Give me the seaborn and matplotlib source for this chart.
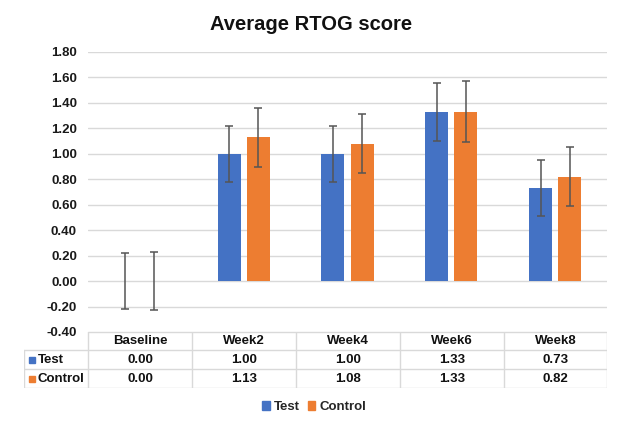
import matplotlib
matplotlib.use("Agg")
import matplotlib.pyplot as plt
import seaborn as sns
import pandas as pd
import numpy as np
from matplotlib.patches import Rectangle
from matplotlib.lines import Line2D

categories = ["Baseline", "Week2", "Week4", "Week6", "Week8"]
series = ["Test", "Control"]
test_vals = [0.00, 1.00, 1.00, 1.33, 0.73]
control_vals = [0.00, 1.13, 1.08, 1.33, 0.82]
test_err = [0.22, 0.22, 0.22, 0.23, 0.22]
control_err = [0.23, 0.23, 0.23, 0.24, 0.23]
yticks = [-0.40, -0.20, 0.00, 0.20, 0.40, 0.60, 0.80, 1.00, 1.20, 1.40, 1.60, 1.80]
colors = {"Test": "#4472C4", "Control": "#ED7D31"}

sns.set_theme(style="white")
plt.rcParams["font.family"] = ["Liberation Sans", "DejaVu Sans"]

W, H = 640, 425
fig = plt.figure(figsize=(W / 100, H / 100), dpi=100)

def fbox(x0, y0, x1, y1):
    return [x0 / W, 1 - y1 / H, (x1 - x0) / W, (y1 - y0) / H]

ax = fig.add_axes(fbox(88, 52, 607, 332))

df = pd.DataFrame({
    "category": categories * 2,
    "series": ["Test"] * len(categories) + ["Control"] * len(categories),
    "value": test_vals + control_vals,
    "err": test_err + control_err,
})

sns.barplot(data=df, x="category", y="value", hue="series", order=categories,
            hue_order=series, palette=colors, width=0.56, gap=0.21,
            errorbar=None, legend=False, ax=ax, saturation=1, linewidth=0)

# error bars at bar centres
patches = [p for p in ax.patches if isinstance(p, Rectangle)]
errs = test_err + control_err
vals = test_vals + control_vals
for p, v, e in zip(patches, vals, errs):
    xc = p.get_x() + p.get_width() / 2
    ax.errorbar(xc, v, yerr=e, fmt="none", ecolor="#555555", elinewidth=1.1,
                capsize=3, capthick=1.1, zorder=5)

ax.set_ylim(-0.40, 1.80)
ax.set_xlim(-0.5, len(categories) - 0.5)
ax.set_yticks(yticks)
ax.set_yticklabels([f"{t:.2f}" for t in yticks], fontsize=9.5, fontweight="bold", color="#1a1a1a")
ax.set_xticks([])
ax.set_xlabel("")
ax.set_ylabel("")
ax.yaxis.grid(True, color="#d9d9d9", linewidth=1)
ax.set_axisbelow(True)
for s in ax.spines.values():
    s.set_visible(False)
ax.tick_params(axis="y", length=0, pad=8)

fig.text(311 / W, 1 - 25 / H, "Average RTOG score", ha="center", va="center",
         fontsize=14.5, fontweight="bold", color="#111111")

# data table
tax = fig.add_axes(fbox(24, 332, 607, 388))
tax.set_xlim(24, 607)
tax.set_ylim(388, 332)
tax.axis("off")
lc = "#d9d9d9"
col_edges = [88, 192, 296, 400, 504, 607]
row_edges = [332, 350, 369, 388]
tax.add_line(Line2D([88, 607], [332, 332], color=lc, lw=1))
for y in row_edges[1:]:
    tax.add_line(Line2D([24, 607], [y, y], color=lc, lw=1))
tax.add_line(Line2D([24, 24], [350, 388], color=lc, lw=1))
for x in col_edges:
    tax.add_line(Line2D([x, x], [332, 388], color=lc, lw=1))

fs = 9.5
for i, c in enumerate(categories):
    xc = (col_edges[i] + col_edges[i + 1]) / 2
    tax.text(xc, 341.5, c, ha="center", va="center", fontsize=fs, fontweight="bold", color="#111111")
    tax.text(xc, 360, f"{test_vals[i]:.2f}", ha="center", va="center", fontsize=fs, fontweight="bold", color="#111111")
    tax.text(xc, 379, f"{control_vals[i]:.2f}", ha="center", va="center", fontsize=fs, fontweight="bold", color="#111111")

for name, yc in zip(series, [360, 379]):
    tax.add_patch(Rectangle((29, yc - 3), 6, 6, color=colors[name]))
    tax.text(38, yc, name, ha="left", va="center", fontsize=fs, fontweight="bold", color="#111111")

handles = [Rectangle((0, 0), 1, 1, color=colors[s]) for s in series]
fig.legend(handles, series, loc="center", bbox_to_anchor=(314 / W, 1 - 407 / H), ncol=2,
           frameon=False, handlelength=0.6, handleheight=0.6, handletextpad=0.3,
           columnspacing=0.6, prop={"size": 9.5, "weight": "bold"})

fig.savefig("out.png", dpi=100)
